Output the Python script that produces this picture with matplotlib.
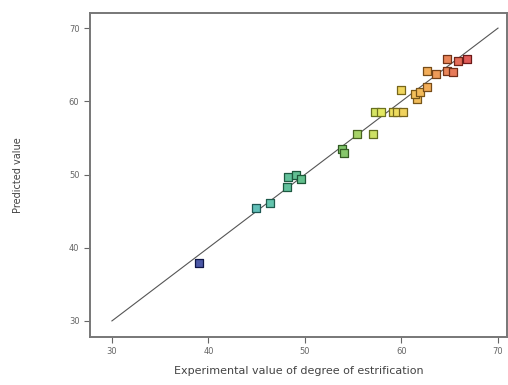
import numpy as np
import matplotlib.pyplot as plt
from matplotlib.colors import LinearSegmentedColormap, to_rgb

# actual (experimental) vs predicted degree of esterification
actual = [39.0, 44.9, 46.4, 48.1, 48.2, 49.1, 49.6, 53.8, 54.0, 55.4, 57.0,
          57.3, 57.9, 59.1, 59.5, 60.2, 59.9, 61.6, 61.4, 61.9, 62.6,
          62.6, 63.6, 64.7, 65.3, 64.7, 65.9, 66.8]
predicted = [37.9, 45.4, 46.1, 48.3, 49.7, 50.0, 49.4, 53.5, 52.9, 55.6, 55.5,
             58.5, 58.5, 58.5, 58.5, 58.5, 61.5, 60.3, 61.0, 61.3, 61.9,
             64.2, 63.7, 64.2, 64.0, 65.8, 65.5, 65.8]

xticks = [30, 40, 50, 60, 70]
yticks = [30, 40, 50, 60, 70]

cmap = LinearSegmentedColormap.from_list(
    "de", [(0.0, "#1a1a8c"), (0.25, "#3cb8a8"), (0.5, "#3aa84a"),
           (0.7, "#e8e83a"), (0.84, "#f0a030"), (1.0, "#d83030")])

fig = plt.figure(figsize=(5.08, 3.85), dpi=100)
ax = fig.add_axes([0.177, 0.125, 0.821, 0.841])

ax.plot([30, 70], [30, 70], color="#555555", lw=0.8, zorder=1)

norm = plt.Normalize(38, 67)
for a, p in zip(actual, predicted):
    c = np.array(to_rgb(cmap(norm(a))))
    fill = c * 0.8 + 0.2
    ax.scatter(a, p, marker="s", s=30, facecolor=fill, edgecolor=c * 0.5,
               linewidths=0.9, zorder=2)

ax.set_xlim(27.72, 70.93)
ax.set_ylim(27.82, 72.05)
ax.set_xticks(xticks)
ax.set_yticks(yticks)
ax.tick_params(labelsize=6, colors="#666666", length=4, width=0.8)
for s in ax.spines.values():
    s.set_color("#777777")
    s.set_linewidth(1.4)

ax.set_xlabel("Experimental value of degree of estrification", fontsize=8,
              color="#444444", labelpad=7)
ax.set_ylabel("Predicted value", fontsize=7, color="#444444", labelpad=33)

fig.savefig("out.png", dpi=100)
